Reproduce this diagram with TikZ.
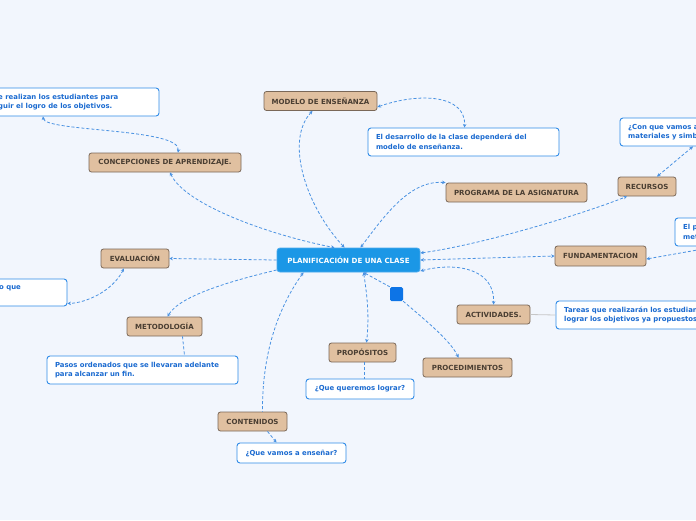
\documentclass[tikz,border=0pt]{standalone}
\usepackage{fontspec}
\setmainfont{DejaVu Sans}
\usetikzlibrary{arrows.meta}
\definecolor{bg}{HTML}{F2F6FD}
\definecolor{topicfill}{HTML}{E0C0A0}
\definecolor{topicborder}{HTML}{7A6858}
\definecolor{topictext}{HTML}{4A3E32}
\definecolor{centerfill}{HTML}{1B97E6}
\definecolor{centerborder}{HTML}{4AAAEE}
\definecolor{noteborder}{HTML}{2F8BE8}
\definecolor{notetext}{HTML}{1A6AD0}
\definecolor{conncol}{HTML}{4A92E2}
\definecolor{sqblue}{HTML}{0D74E6}
\begin{document}
\begin{tikzpicture}[x=1pt,y=-1pt,
  topic/.style={draw=topicborder, fill=topicfill, rounded corners=2.5pt, line width=0.8pt,
    minimum height=19pt, inner sep=0pt, font=\fontsize{7.05}{8}\selectfont\bfseries, text=topictext},
  centre/.style={draw=centerborder, fill=centerfill, rounded corners=3pt, line width=0.8pt,
    minimum height=24pt, minimum width=143pt, inner sep=0pt, font=\fontsize{7.1}{8}\selectfont\bfseries, text=white},
  note/.style={draw=noteborder, fill=white, rounded corners=3pt, line width=0.9pt,
    minimum height=28pt, inner xsep=8pt, inner ysep=0pt, font=\fontsize{6.9}{9.5}\selectfont\bfseries,
    text=notetext, align=left},
  notetext/.style={inner sep=0pt, font=\fontsize{6.9}{9.5}\selectfont\bfseries, text=notetext, align=left},
  conn/.style={draw=conncol, line width=0.8pt, dash pattern=on 3pt off 2pt,
    >={Stealth[length=3.5pt,width=3.5pt]}}
]
\useasboundingbox[fill=bg] (0,0) rectangle (696,520);

% nodes
\node[centre] (c) at (348.5,260) {PLANIFICACIÓN DE UNA CLASE};
\node[topic, minimum width=113pt] (modelo) at (320.5,101) {MODELO DE ENSEÑANZA};
\node[note, text width=175pt] (nmodelo) at (463.5,142) {El desarrollo de la clase dependerá del\\modelo de enseñanza.};
\node[topic, minimum width=152pt] (concep) at (165,162.5) {CONCEPCIONES DE APRENDIZAJE.};
\node[note, minimum width=219pt] (nconcep) at (49.5,102) {};
\node[notetext, anchor=west] (tconcep) at (-2,102) {e realizan los estudiantes para\\guir el logro de los objetivos.};
\node[topic, minimum width=68pt] (eval) at (135,258.5) {EVALUACIÓN};
\node[note, minimum width=127pt, minimum height=27pt] (neval) at (3.5,292.5) {};
\node[notetext, anchor=west] (teval) at (-1,288) {o que};
\node[topic, minimum width=75pt] (metod) at (164.5,326.5) {METODOLOGÍA};
\node[note, text width=175pt] (nmetod) at (142.5,370) {Pasos ordenados que se llevaran adelante\\para alcanzar un fin.};
\node[topic, minimum width=69pt] (conten) at (252.5,421.5) {CONTENIDOS};
\node[note, minimum width=109pt, minimum height=20pt] (nconten) at (291.5,453) {¿Que vamos a enseñar?};
\node[topic, minimum width=67pt] (propo) at (362.5,352.5) {PROPÓSITOS};
\node[note, minimum width=108pt, minimum height=20pt] (npropo) at (360,389) {¿Que queremos lograr?};
\node[topic, minimum width=89pt] (proced) at (467.5,367.5) {PROCEDIMIENTOS};
\node[topic, minimum width=73pt] (activ) at (493.5,314.5) {ACTIVIDADES.};
\node[note, minimum width=204pt] (nactiv) at (658,315) {};
\node[notetext, anchor=west] (tactiv) at (564,315) {Tareas que realizarán los estudiantes\\lograr los objetivos ya propuestos.};
\node[topic, minimum width=91pt, minimum height=20pt] (fund) at (600.5,256) {FUNDAMENTACION};
\node[note, minimum width=85pt] (nfund) at (717.5,232) {};
\node[notetext, anchor=west] (tfund) at (683,232) {El p\\met};
\node[topic, minimum width=58pt] (recur) at (647,186.5) {RECURSOS};
\node[note, minimum width=140pt] (nrecur) at (690,132) {};
\node[notetext, anchor=west] (trecur) at (628,132) {¿Con que vamos a\\materiales y simb};
\node[topic, minimum width=141pt] (progr) at (516.5,192.5) {PROGRAMA DE LA ASIGNATURA};
\node[fill=sqblue, rounded corners=1.5pt, minimum width=13pt, minimum height=14pt, inner sep=0pt] (sq) at (396.5,294) {};

% main connectors
\draw[conn,<->] ([xshift=-4pt]c.north) .. controls (305,205) and (285,140) .. ([xshift=-8pt]modelo.south);
\draw[conn,<->] ([xshift=5pt]concep.south) .. controls (185,205) and (270,235) .. ([xshift=-14pt]c.north);
\draw[conn,<->] ([xshift=12pt]c.north) .. controls (385,215) and (410,180) .. (progr.north west);
\draw[conn,<->] ([yshift=7pt]c.east) .. controls (480,245) and (580,215) .. ([xshift=-20pt]recur.south);
\draw[conn,<->] (c.east) -- (fund.west);
\draw[conn,<->] ([yshift=-11pt]c.east) .. controls (455,262) and (495,268) .. (activ.north);
\draw[conn,<-] ([xshift=15pt]c.south) -- (sq.north west);
\draw[conn,->] (sq.south east) .. controls (425,320) and (450,340) .. ([xshift=-9pt]proced.north);
\draw[conn,<->] ([xshift=15pt]c.south) .. controls (368,300) and (369,320) .. ([xshift=4pt]propo.north);
\draw[conn,<-] ([xshift=-45pt]c.south) .. controls (280,305) and (262,350) .. ([xshift=10pt]conten.north);
\draw[conn,->] ([yshift=-10pt]c.west) .. controls (235,280) and (180,295) .. ([xshift=3pt]metod.north);
\draw[conn,->] (c.west) -- (eval.east);

% sub connectors
\draw[conn,<->] ([yshift=-6pt]modelo.east) .. controls (420,92) and (466,95) .. ([xshift=1pt]nmodelo.north);
\draw[conn,<->] ([xshift=13pt]concep.north) .. controls (182,128) and (45,132) .. ([xshift=-6.5pt]nconcep.south);
\draw[conn,<->] ([xshift=10pt]recur.north) -- ([xshift=3pt]nrecur.south);
\draw[conn,<->] ([yshift=-3pt]fund.east) -- (nfund.south);
\draw[conn,<->] ([xshift=-11pt]eval.south) .. controls (112,292) and (85,303) .. ([yshift=3pt]neval.south east);
\draw[conn] ([xshift=18pt]metod.south) -- ([xshift=42pt]nmetod.north);
\draw[conn,->] ([xshift=15pt]conten.south) -- ([xshift=-15pt]nconten.north);
\draw[conn] ([xshift=2pt]propo.south) -- ([xshift=4.5pt]npropo.north);
\draw[line width=0.8pt, draw=gray!45] (activ.east) -- (nactiv.west);
\end{tikzpicture}
\end{document}
